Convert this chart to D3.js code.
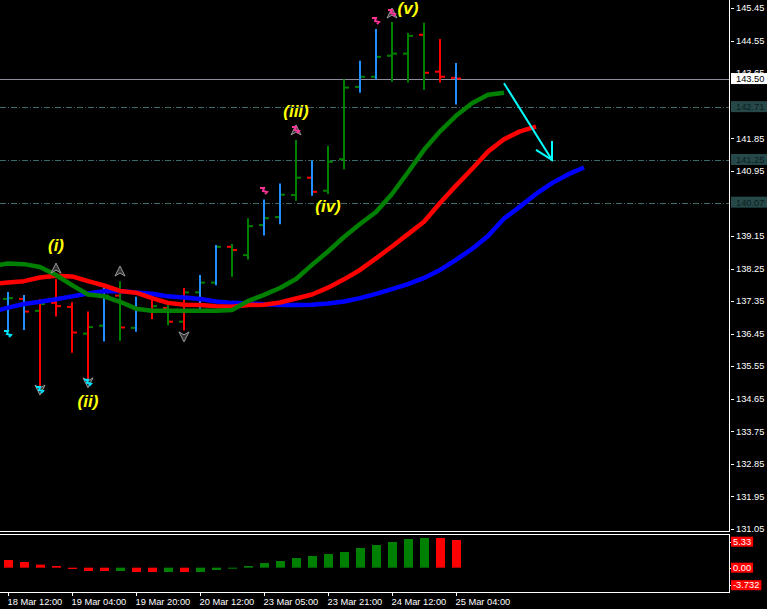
<!DOCTYPE html>
<html><head><meta charset="utf-8">
<script src="https://cdn.jsdelivr.net/npm/d3@7"></script>
<style>html,body{margin:0;padding:0;background:#000;overflow:hidden}</style>
</head><body>
<svg id="c" width="767" height="609"></svg>
<script>
// ---------- DATA ----------
const barOpen  = [137.41,137.41,137.08,137.30,137.19,136.45,136.67,137.50,136.61,137.10,137.16,136.78,137.59,137.86,138.85,138.62,139.45,139.67,140.28,140.76,140.40,141.27,143.27,143.55,144.13,144.19,144.71,143.69,143.52];
const barHigh  = [137.60,137.52,137.41,137.95,137.32,137.06,137.73,137.89,137.47,137.38,137.34,137.71,138.07,138.90,138.93,139.64,140.16,140.60,141.80,141.23,141.64,143.48,143.99,144.87,145.06,144.76,145.04,144.59,143.93];
const barLow   = [136.55,136.55,134.98,136.92,135.92,135.17,136.23,136.25,136.50,136.85,136.68,136.54,137.14,137.79,138.02,138.50,139.16,139.47,140.12,140.26,140.31,140.99,143.11,143.48,143.41,143.39,143.19,143.39,142.78];
const barClose = [137.43,137.06,137.27,137.21,136.48,136.63,137.50,136.62,137.10,137.21,136.78,137.59,137.86,138.85,138.76,139.42,139.64,140.29,140.76,140.37,141.20,143.25,143.55,144.10,144.19,144.68,143.66,143.55,143.50];
const barColor = ["blue","blue","red","red","red","red","blue","green","blue","red","green","red","blue","blue","green","green","blue","blue","green","blue","green","green","blue","blue","green","green","green","red","blue"];

const tickIdx    = [0,4,8,12,16,20,24,28];
const tickLabels = ["18 Mar 12:00","19 Mar 04:00","19 Mar 20:00","20 Mar 12:00","23 Mar 05:00","23 Mar 21:00","24 Mar 12:00","25 Mar 04:00"];
const priceTicks = [145.45,144.55,143.65,142.75,141.85,140.95,140.05,139.15,138.25,137.35,136.45,135.55,134.65,133.75,132.85,131.95,131.05];

// Alligator lines (first value belongs to bar index -1)
const maStart = -1;
const jaw   = [137.05,137.17,137.27,137.33,137.40,137.48,137.56,137.62,137.63,137.59,137.55,137.48,137.45,137.41,137.34,137.30,137.28,137.26,137.24,137.24,137.25,137.28,137.34,137.43,137.55,137.68,137.82,137.99,138.21,138.49,138.79,139.15,139.63,139.96,140.31,140.61,140.85,141.04];
const teeth = [137.82,137.86,137.90,138.00,138.05,138.03,137.90,137.78,137.63,137.58,137.43,137.30,137.25,137.24,137.21,137.19,137.24,137.25,137.31,137.42,137.53,137.72,137.95,138.21,138.53,138.86,139.20,139.54,140.06,140.54,141.00,141.48,141.82,142.04,142.17];
const lips  = [138.32,138.39,138.37,138.29,138.07,137.79,137.53,137.48,137.33,137.14,137.08,137.08,137.08,137.08,137.08,137.10,137.35,137.52,137.71,137.96,138.35,138.72,139.12,139.48,139.81,140.31,140.91,141.53,142.04,142.47,142.82,143.05,143.11];

const aoValues = [1.48,1.09,0.58,0.32,-0.25,-0.64,-0.64,-0.64,-0.83,-0.83,-0.83,-0.83,-0.83,-0.45,-0.20,0.32,0.90,1.28,1.86,2.25,2.63,3.02,3.79,4.37,4.95,5.52,5.72,5.72,5.33];
const aoColors = ["red","red","red","red","red","red","red","green","red","red","green","red","green","green","green","green","green","green","green","green","green","green","green","green","green","green","green","red","red"];
const aoLabels = [5.33,0.00,-3.732];

const levelLines   = [142.71,141.25,140.07];
const currentPrice = 143.50;

const waveLabels = [
  {t:"(i)",i:3,p:138.90},{t:"(ii)",i:5,p:134.60},{t:"(iii)",i:18,p:142.61},
  {t:"(iv)",i:20,p:139.98},{t:"(v)",i:25,p:145.45}
];
const fractals = [
  {i:3,p:138.26,dir:"up"},{i:7,p:138.18,dir:"up"},{i:18,p:142.08,dir:"up"},{i:24,p:145.31,dir:"up"},
  {i:11,p:136.36,dir:"down"},{i:2,p:134.89,dir:"down"},{i:5,p:135.09,dir:"down"}
];
const signals = [
  {i:0,p:136.44,c:"cyan"},{i:2,p:134.89,c:"cyan"},{i:5,p:135.09,c:"cyan"},
  {i:16,p:140.39,c:"pink"},{i:18,p:142.08,c:"pink"},{i:23,p:145.09,c:"pink"},{i:24,p:145.31,c:"pink"}
];
const arrowFrom = {i:31,p:143.37};
const arrowTo   = {i:34,p:141.25};

// ---------- STYLE ----------
const COL = {blue:"#1e90ff", green:"#008000", red:"#ff0000"};
const FONT = "'Liberation Sans', Arial, sans-serif";
const svg = d3.select("#c");
svg.append("rect").attr("width",767).attr("height",609).attr("fill","#000");

const plotRight = 729.5;
const x  = d3.scaleLinear().domain([0,28]).range([8,456]);
const y  = d3.scaleLinear().domain([131.05,145.45]).range([529,8]);
const ya = d3.scaleLinear().domain([0,5.33]).range([567.67,540]);

svg.append("clipPath").attr("id","mainClip").append("rect").attr("x",0).attr("y",0).attr("width",729).attr("height",531);
const main = svg.append("g").attr("clip-path","url(#mainClip)");

// level lines
levelLines.forEach(v=>{
  main.append("line").attr("x1",0).attr("x2",plotRight).attr("y1",Math.round(y(v))+0.5).attr("y2",Math.round(y(v))+0.5)
    .attr("stroke","#3b6868").attr("stroke-width",1).attr("stroke-dasharray","6,2,1,2");
});
main.append("line").attr("x1",0).attr("x2",plotRight).attr("y1",Math.round(y(currentPrice))+0.5).attr("y2",Math.round(y(currentPrice))+0.5)
  .attr("stroke","#8c8c9c").attr("stroke-width",1);

// OHLC bars
const bars = main.append("g");
barOpen.forEach((o,i)=>{
  const cx = x(i);
  bars.append("line").attr("x1",cx).attr("x2",cx).attr("y1",y(barHigh[i])).attr("y2",y(barLow[i]))
    .attr("stroke",COL[barColor[i]]).attr("stroke-width",2);
  const tc = barClose[i] >= o ? COL.green : COL.red;
  bars.append("line").attr("x1",cx-5).attr("x2",cx-1).attr("y1",y(o)).attr("y2",y(o)).attr("stroke",tc).attr("stroke-width",2);
  bars.append("line").attr("x1",cx+1).attr("x2",cx+5).attr("y1",y(barClose[i])).attr("y2",y(barClose[i])).attr("stroke",tc).attr("stroke-width",2);
});

// Alligator
const maLine = d3.line().x((d,k)=>x(maStart+k)).y(d=>y(d));
[[jaw,"#0000ff"],[teeth,"#ff0000"],[lips,"#008000"]].forEach(([arr,c])=>{
  main.append("path").attr("d",maLine(arr)).attr("fill","none").attr("stroke",c).attr("stroke-width",4.5).attr("stroke-linejoin","round");
});

// fractal arrowheads
fractals.forEach(f=>{
  const cx=x(f.i), cy=y(f.p);
  const s = f.dir==="up" ? 1 : -1;
  main.append("path").attr("d",`M${cx},${cy-5*s} L${cx+5},${cy+5*s} L${cx},${cy+2*s} L${cx-5},${cy+5*s} Z`)
    .attr("fill","#333").attr("stroke","#9a9a9a").attr("stroke-width",1);
});
// signal squiggles
signals.forEach(s=>{
  const cx=x(s.i), cy=y(s.p);
  const col = s.c==="cyan" ? "#00e5ff" : "#ff3399";
  main.append("path").attr("d",`M${cx-4},${cy-3} L${cx},${cy-3} L${cx-1},${cy} L${cx+3},${cy+1} L${cx+1},${cy+3}`)
    .attr("fill","none").attr("stroke",col).attr("stroke-width",2);
});

// wave labels
waveLabels.forEach(w=>{
  main.append("text").attr("x",x(w.i)).attr("y",y(w.p)).attr("dy","0.35em").attr("text-anchor","middle")
    .attr("font-family",FONT).attr("font-weight","bold").attr("font-style","italic").attr("font-size",17)
    .attr("fill","#ffff00").text(w.t);
});

// cyan arrow
const ax1=x(arrowFrom.i), ay1=y(arrowFrom.p), ax2=x(arrowTo.i), ay2=y(arrowTo.p);
main.append("line").attr("x1",ax1).attr("y1",ay1).attr("x2",ax2).attr("y2",ay2).attr("stroke","#00ffff").attr("stroke-width",2);
main.append("path").attr("d",`M${ax2-16},${ay2-10} L${ax2},${ay2} L${ax2},${ay2-19}`).attr("fill","none").attr("stroke","#00ffff").attr("stroke-width",2);

// main frame
svg.append("line").attr("x1",plotRight).attr("x2",plotRight).attr("y1",0).attr("y2",532).attr("stroke","#fff");
svg.append("line").attr("x1",0).attr("x2",plotRight).attr("y1",531.5).attr("y2",531.5).attr("stroke","#fff");

// price axis labels
const yAxis = svg.append("g");
priceTicks.forEach(v=>{
  const py = y(v);
  yAxis.append("line").attr("x1",731).attr("x2",734).attr("y1",Math.round(py)+0.5).attr("y2",Math.round(py)+0.5).attr("stroke","#fff");
  yAxis.append("text").attr("x",736).attr("y",py).attr("dy","0.35em").attr("font-family",FONT).attr("font-size",9.3).attr("fill","#fff").text(v.toFixed(2));
});
levelLines.forEach(v=>{
  const py = y(v);
  yAxis.append("rect").attr("x",731).attr("y",py-6).attr("width",36).attr("height",11).attr("fill","#264848");
  yAxis.append("text").attr("x",736).attr("y",py).attr("dy","0.35em").attr("font-family",FONT).attr("font-size",9.3).attr("fill","#0c1e1e").text(v.toFixed(2));
});
{
  const py=y(currentPrice);
  yAxis.append("rect").attr("x",731).attr("y",py-5.5).attr("width",36).attr("height",11).attr("fill","#fff");
  yAxis.append("text").attr("x",736).attr("y",py).attr("dy","0.35em").attr("font-family",FONT).attr("font-size",9.3).attr("fill","#000").text(currentPrice.toFixed(2));
}

// indicator panel
const sub = svg.append("g");
sub.append("line").attr("x1",0).attr("x2",plotRight).attr("y1",534.5).attr("y2",534.5).attr("stroke","#fff");
sub.append("line").attr("x1",plotRight).attr("x2",plotRight).attr("y1",534).attr("y2",593).attr("stroke","#fff");
sub.append("line").attr("x1",0).attr("x2",plotRight).attr("y1",592.5).attr("y2",592.5).attr("stroke","#fff");
aoValues.forEach((v,i)=>{
  const y0=ya(0), y1=ya(v);
  sub.append("rect").attr("x",x(i)-4).attr("width",9).attr("y",Math.min(y0,y1)).attr("height",Math.max(1,Math.abs(y1-y0)))
    .attr("fill",COL[aoColors[i]]);
});
aoLabels.forEach(v=>{
  const py = Math.max(541.7, Math.min(585.2, ya(v)));
  const t = sub.append("text").attr("x",733).attr("y",py).attr("dy","0.35em").attr("font-family",FONT).attr("font-size",9.3).attr("fill","#fff").text(v===0?"0.00":String(v));
  const w = t.node().getComputedTextLength();
  sub.insert("rect","text").attr("x",731).attr("y",py-5).attr("width",w+4).attr("height",10).attr("fill","#ff0000");
  sub.append("line").attr("x1",729).attr("x2",731).attr("y1",Math.round(py)+0.5).attr("y2",Math.round(py)+0.5).attr("stroke","#fff");
});

// time axis
tickIdx.forEach((ti,k)=>{
  const tx = Math.round(x(ti))+0.5;
  svg.append("line").attr("x1",tx).attr("x2",tx).attr("y1",592).attr("y2",596).attr("stroke","#fff");
  svg.append("text").attr("x",tx-1).attr("y",601.5).attr("dy","0.35em").attr("font-family",FONT).attr("font-size",9.3).attr("fill","#fff").text(tickLabels[k]);
});
</script>
</body></html>
